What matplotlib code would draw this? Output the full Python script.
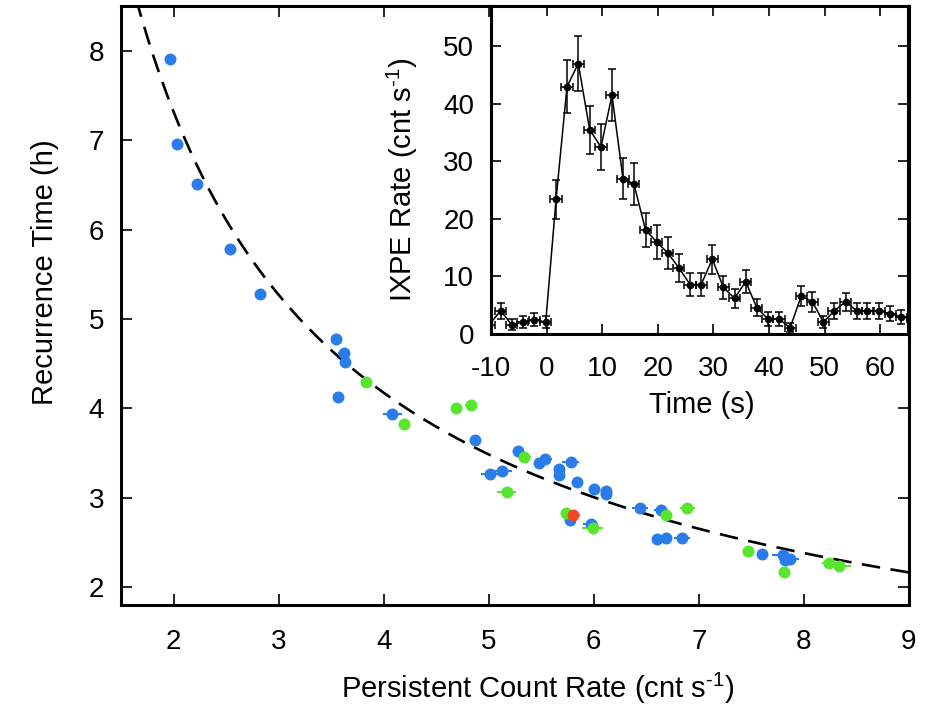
import numpy as np
import matplotlib
matplotlib.use("Agg")
import matplotlib.pyplot as plt

plt.rcParams['font.family'] = ['Liberation Sans', 'DejaVu Sans']
plt.rcParams['mathtext.fontset'] = 'custom'
plt.rcParams['mathtext.rm'] = 'Liberation Sans'
plt.rcParams['mathtext.it'] = 'Liberation Sans'

# ---- main panel data: persistent rate (cnt/s), recurrence time (h), x error ----
blue_x = [1.97, 2.03, 2.22, 2.54, 2.82, 3.55, 3.62, 3.63, 3.57, 4.08, 4.87, 5.01, 5.13,
          5.28, 5.48, 5.54, 5.67, 5.67, 5.78, 5.84, 6.00, 6.12, 6.12, 5.77, 5.97, 6.44,
          6.64, 6.60, 6.69, 6.84, 7.60, 7.80, 7.82, 7.87]
blue_y = [7.91, 6.96, 6.51, 5.78, 5.28, 4.78, 4.62, 4.52, 4.13, 3.94, 3.65, 3.27, 3.30,
          3.52, 3.39, 3.43, 3.32, 3.25, 3.40, 3.18, 3.10, 3.08, 3.04, 2.75, 2.71, 2.89,
          2.86, 2.54, 2.55, 2.555, 2.37, 2.36, 2.30, 2.31]
blue_xerr = [0.02, 0.02, 0.02, 0.02, 0.02, 0.03, 0.05, 0.04, 0.03, 0.09, 0.05, 0.08, 0.09,
             0.05, 0.05, 0.06, 0.05, 0.03, 0.08, 0.05, 0.03, 0.04, 0.03, 0.03, 0.07, 0.08,
             0.07, 0.03, 0.05, 0.08, 0.03, 0.10, 0.03, 0.08]

green_x = [3.83, 4.19, 4.69, 4.83, 5.34, 5.17, 5.74, 5.99, 6.69, 6.89, 7.47, 7.81, 8.24, 8.33]
green_y = [4.29, 3.83, 4.00, 4.04, 3.46, 3.06, 2.83, 2.66, 2.81, 2.89, 2.40, 2.17, 2.27, 2.24]
green_xerr = [0.05, 0.03, 0.03, 0.06, 0.06, 0.09, 0.05, 0.10, 0.03, 0.07, 0.04, 0.04, 0.07, 0.12]

red_x = [5.80]
red_y = [2.81]
red_xerr = [0.07]

# fitted relation T = A * F^(-k)
fit_A = 12.83
fit_k = 0.81

# ---- inset light curve ----
t_s = [-10.3, -8.26, -6.28, -4.3, -2.21, -0.16, 1.7, 3.67, 5.7, 7.75, 9.78, 11.76, 13.74,
       15.7, 17.8, 19.8, 21.8, 23.8, 25.8, 27.8, 29.8, 31.8, 33.8, 35.8, 37.8, 39.8, 41.8,
       43.8, 45.8, 47.8, 49.8, 51.7, 53.8, 55.8, 57.7, 59.8, 61.8, 63.8, 65.8]
rate = [1.6, 4.07, 1.6, 2.06, 2.5, 2.06, 23.4, 43.0, 47.0, 35.5, 32.5, 41.5, 27.0,
        26.1, 18.06, 16.0, 14.07, 11.5, 8.6, 8.6, 13.0, 8.1, 6.2, 9.1, 4.6, 2.6, 2.6,
        1.1, 6.6, 5.6, 2.06, 4.0, 5.6, 4.0, 4.0, 4.0, 3.55, 3.0, 2.6]
rate_err = [1.0, 1.4, 0.95, 1.05, 1.15, 1.05, 3.4, 4.6, 4.8, 4.2, 4.0, 4.5, 3.6,
            3.6, 2.9, 2.9, 2.7, 2.4, 2.0, 2.0, 2.5, 2.0, 1.7, 2.0, 1.5, 1.15, 1.15,
            0.8, 1.8, 1.7, 1.1, 1.4, 1.6, 1.4, 1.4, 1.4, 1.35, 1.25, 1.15]
t_err = [1.0] * len(t_s)

c_blue = '#2a7de8'
c_green = '#57e52e'
c_red = '#ef4a28'

fig = plt.figure(figsize=(9.26, 7.12), dpi=100)
ax = fig.add_axes([121/926, 1-605/712, 788/926, 599/712])

fs_tick = 20
fs_lab = 21
xf = np.linspace(1.5, 9.0, 400)
ax.plot(xf, fit_A * xf**(-fit_k), color='black', lw=1.9, ls=(0, (7, 4)), zorder=2)

for xs, ys, xe, c in [(blue_x, blue_y, blue_xerr, c_blue),
                      (green_x, green_y, green_xerr, c_green),
                      (red_x, red_y, red_xerr, c_red)]:
    ax.errorbar(xs, ys, xerr=xe, fmt='o', color=c, ms=8.6, mew=0, elinewidth=1.5,
                capsize=4, capthick=1.5, zorder=3)

ax.set_xlim(1.5, 9)
ax.set_ylim(1.8, 8.5)
ax.set_xticks([2, 3, 4, 5, 6, 7, 8, 9])
ax.set_yticks([2, 3, 4, 5, 6, 7, 8])
ax.tick_params(direction='in', top=True, right=True, length=8, width=1.2,
               labelsize=fs_tick)
ax.tick_params(axis='x', pad=17)
ax.tick_params(axis='y', pad=12)
for s in ax.spines.values():
    s.set_linewidth(2.2)
ax.set_xlabel(r'Persistent Count Rate (cnt s$^{\text{-1}}$)', fontsize=fs_lab)
ax.set_ylabel('Recurrence Time (h)', fontsize=fs_lab)
ax.xaxis.set_label_coords(0.529, -0.139)
ax.xaxis.label.set_va('center')
ax.yaxis.set_label_coords(-0.097, 0.555)
ax.yaxis.label.set_va('center')

# ---- inset ----
ins = fig.add_axes([491/926, 1-334/712, 417/926, 328/712])
ins.set_facecolor('white')
ins.errorbar(t_s, rate, xerr=t_err, yerr=rate_err, fmt='-o', color='black', ms=4.5,
             lw=1.1, elinewidth=1.1, capsize=3, capthick=1.1, clip_on=True)
ins.set_xlim(-10, 65)
ins.set_ylim(0, 57)
ins.set_xticks([-10, 0, 10, 20, 30, 40, 50, 60])
ins.set_xticklabels(['-10', '0', '10', '20', '30', '40', '50', '60'])
ins.set_yticks([0, 10, 20, 30, 40, 50])
ins.tick_params(direction='in', top=True, right=True, length=7, width=1.2,
                labelsize=fs_tick)
ins.tick_params(axis='x', pad=16)
ins.tick_params(axis='y', pad=12)
for s in ins.spines.values():
    s.set_linewidth(2.2)
ins.set_xlabel('Time (s)', fontsize=fs_lab)
ins.set_ylabel(r'IXPE Rate (cnt s$^{\text{-1}}$)', fontsize=fs_lab)
ins.xaxis.set_label_coords(0.506, -0.216)
ins.xaxis.label.set_va('center')
ins.yaxis.set_label_coords(-0.213, 0.47)
ins.yaxis.label.set_va('center')

fig.savefig('out.png', dpi=100)
